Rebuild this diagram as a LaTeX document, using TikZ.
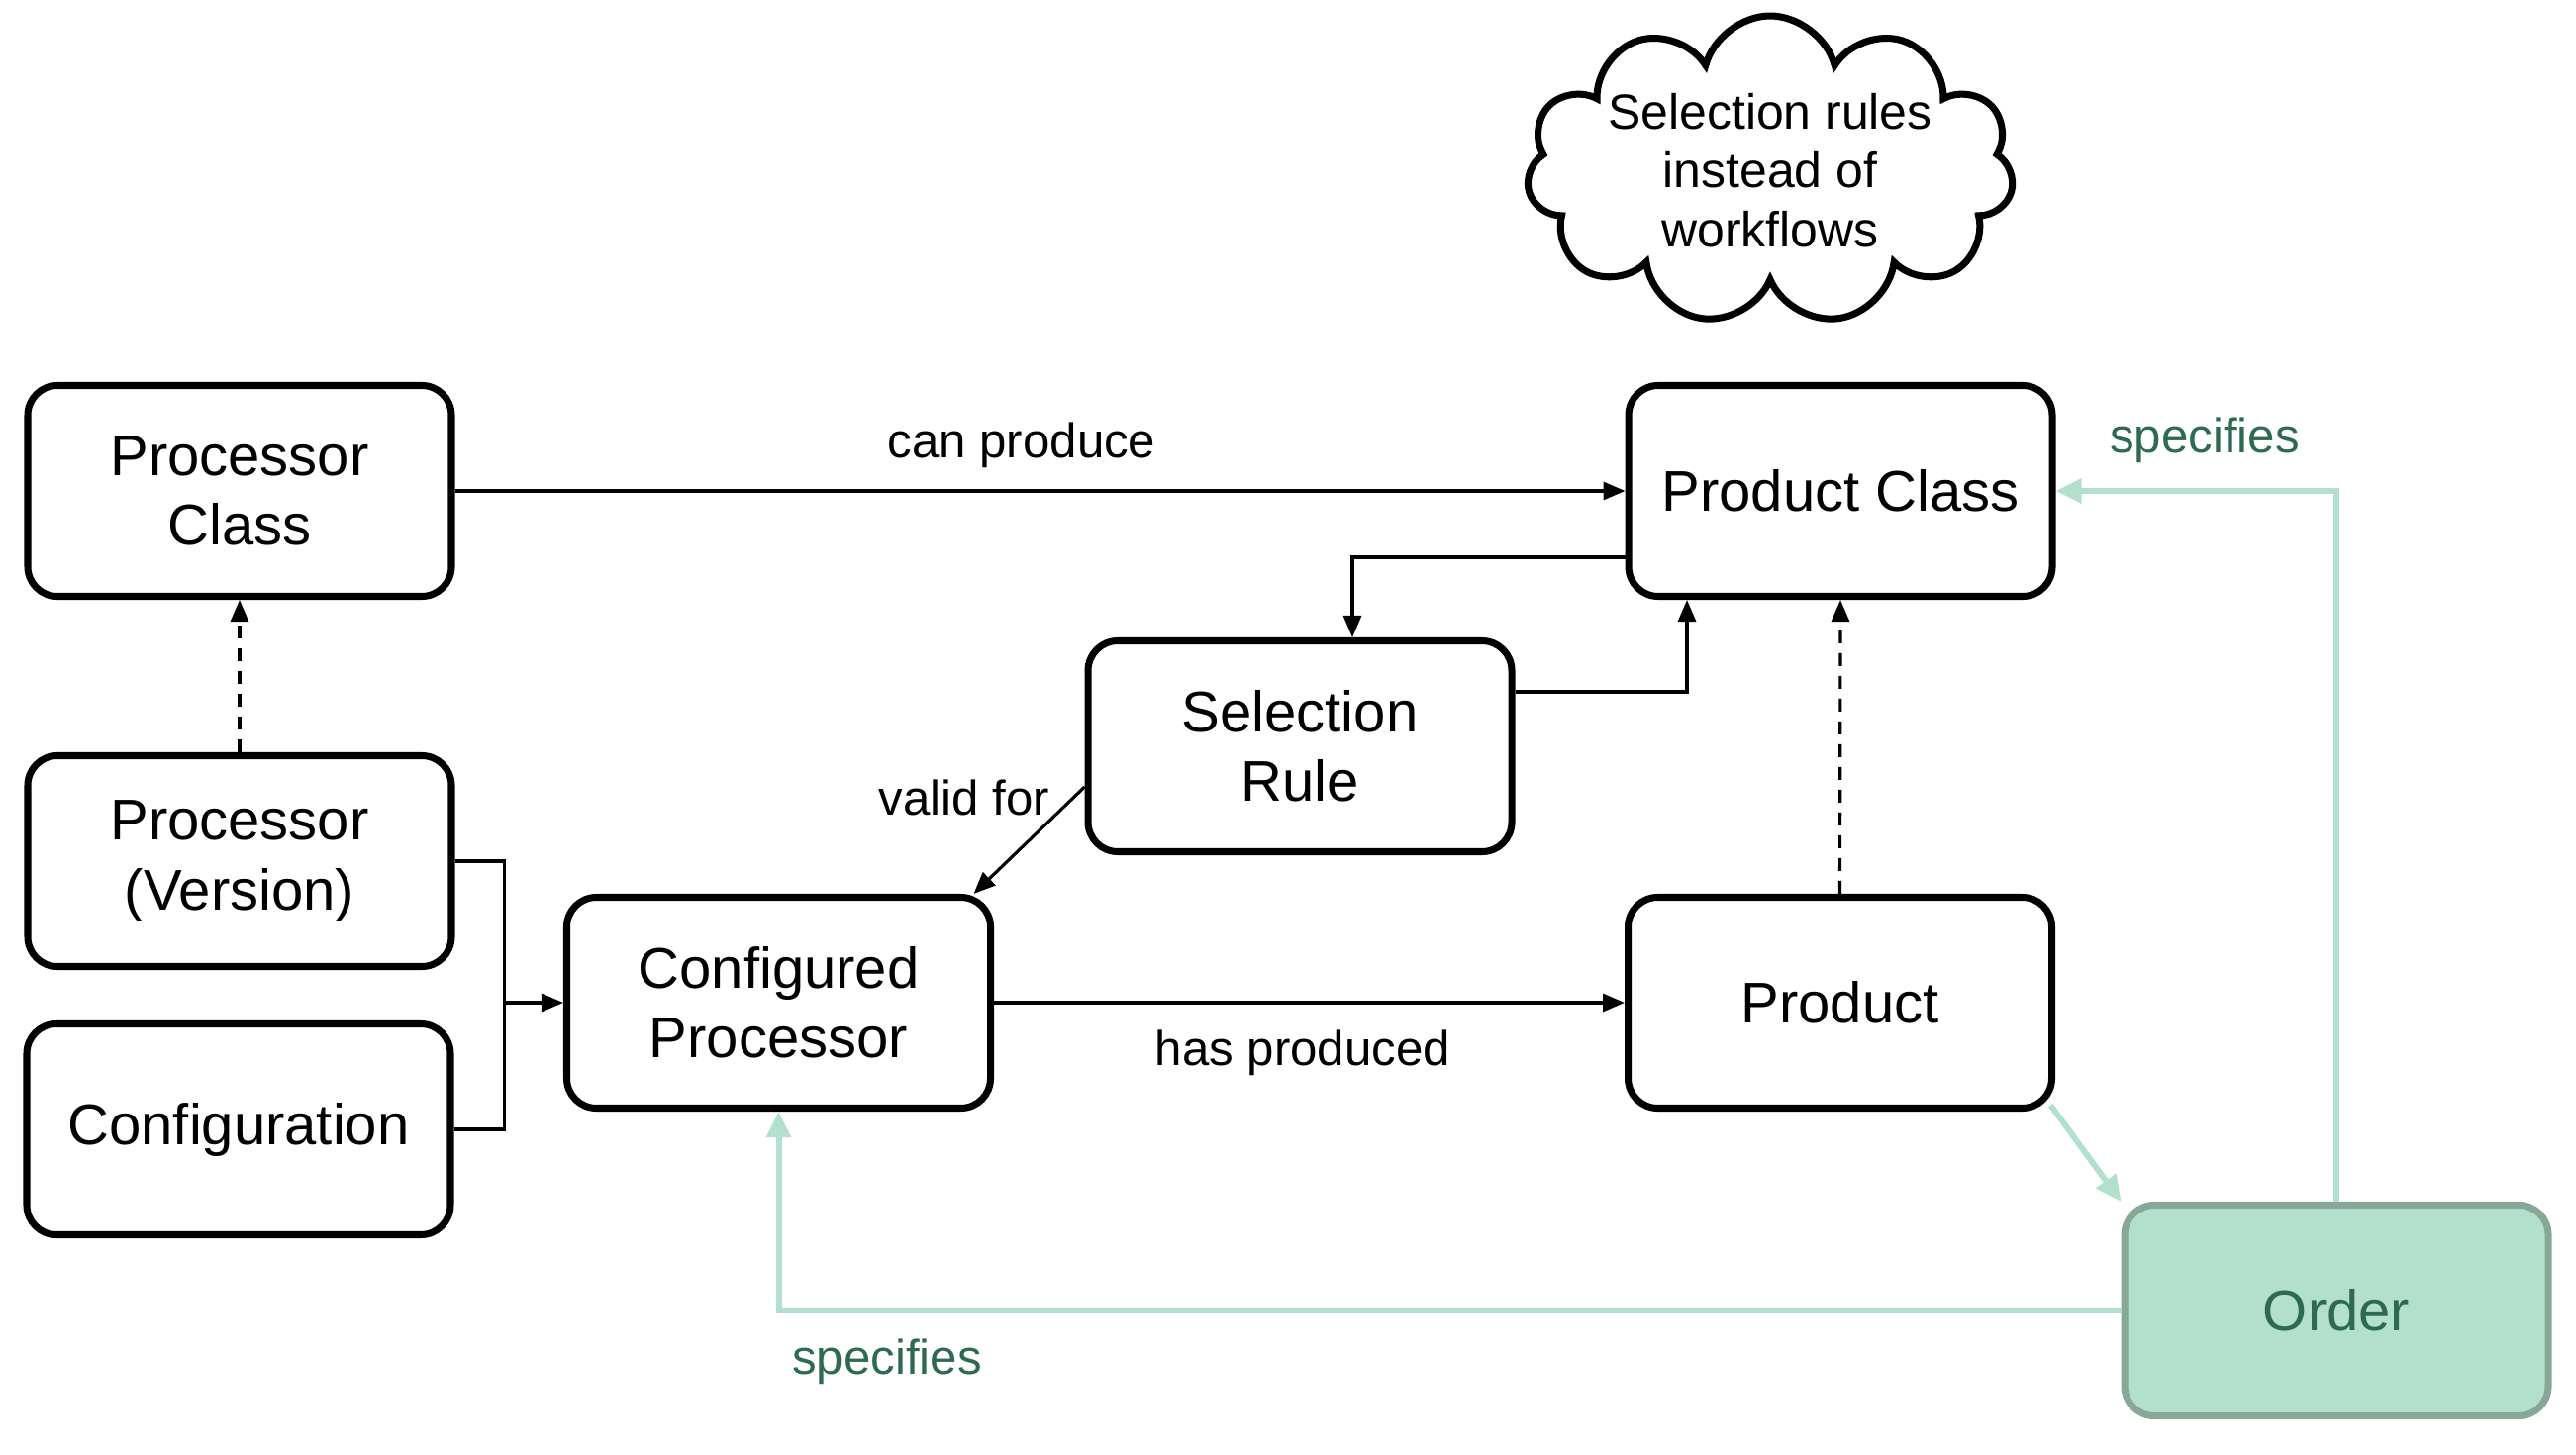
\documentclass[tikz,border=0pt]{standalone}
\usepackage{xcolor}
\usepackage{fontspec}
\setmainfont{Liberation Sans}
\usepackage{tikz}
\usetikzlibrary{positioning, arrows.meta, shapes.symbols}

\definecolor{ordfill}{HTML}{B3E0CC}
\definecolor{ordline}{HTML}{87A896}
\definecolor{ordtext}{HTML}{2D6A4F}

\begin{document}
\begin{tikzpicture}[
    box/.style={draw, rectangle, rounded corners=0.3cm, line width=2pt,
                minimum width=4.28cm, minimum height=2.13cm, align=center,
                font=\fontsize{16.5}{20}\selectfont},
    order/.style={box, draw=ordline, fill=ordfill, text=ordtext},
    thought/.style={draw, cloud, cloud puffs=11, cloud ignores aspect, line width=2pt,
                    minimum width=4.9cm, minimum height=2.94cm, inner sep=0pt, align=center,
                    font=\fontsize{14.2}{17}\selectfont},
    link/.style={line width=0.9pt, -{Triangle[length=0.22cm, width=0.18cm]}},
    dlink/.style={link, dash pattern=on 0.13cm off 0.1cm},
    glink/.style={line width=1.7pt, draw=ordfill, -{Triangle[length=0.26cm, width=0.24cm]}},
    lbl/.style={font=\fontsize{14}{17}\selectfont},
    glbl/.style={lbl, text=ordtext},
]
\useasboundingbox (0,0) rectangle (26.02,-14.70);

% === Note ===
\node[thought] (note) at (17.88,-1.72) {Selection rules\\instead of\\workflows};

% === Processor side ===
\node[box] (pcls) at (2.42,-4.96)  {Processor\\Class};
\node[box] (pver) at (2.42,-8.70)  {Processor\\(Version)};
\node[box] (conf) at (2.41,-11.41) {Configuration};
\node[box] (cpro) at (7.865,-10.13) {Configured\\Processor};

% === Product side ===
\node[box] (srule) at (13.13,-7.54) {Selection\\Rule};
\node[box] (prcls) at (18.59,-4.96) {Product Class};
\node[box] (prod)  at (18.585,-10.13) {Product};
\node[order] (ord) at (23.60,-13.24) {Order};

% black links
\draw[link] (pcls.east) -- (prcls.west);
\node[lbl] (lcan) at (10.32,-4.50) {can produce};

\draw[dlink] (pver.north) -- (pcls.south);
\draw[dlink] (prod.north) -- (prcls.south);

\coordinate[left=0.595cm of cpro.west] (join);
\draw[line width=0.9pt] (pver.east) -| (join);
\draw[line width=0.9pt] (conf.east) -| (join);
\draw[link] (join) -- (cpro.west);

\draw[link] ([yshift=-0.67cm]prcls.west) -| ([xshift=0.53cm]srule.north);
\draw[link] ([yshift=0.55cm]srule.east) -| ([xshift=-1.55cm]prcls.south);

\draw[link] ([yshift=-0.41cm]srule.west) -- ([xshift=1.97cm]cpro.north);
\node[lbl] (lvalid) at (9.74,-8.06) {valid for};

\draw[link] (cpro.east) -- (prod.west);
\node[lbl] (lhas) at (13.16,-10.64) {has produced};

% green links
\draw[glink, shorten <=-0.08cm] (prod.south east) -- (ord.north west);
\draw[glink] (ord.north) |- (prcls.east);
\node[glbl] (lspec1) at (22.27,-4.45) {specifies};
\draw[glink] (ord.west) -| (cpro.south);
\node[glbl] (lspec2) at (8.96,-13.76) {specifies};

\end{tikzpicture}
\end{document}
